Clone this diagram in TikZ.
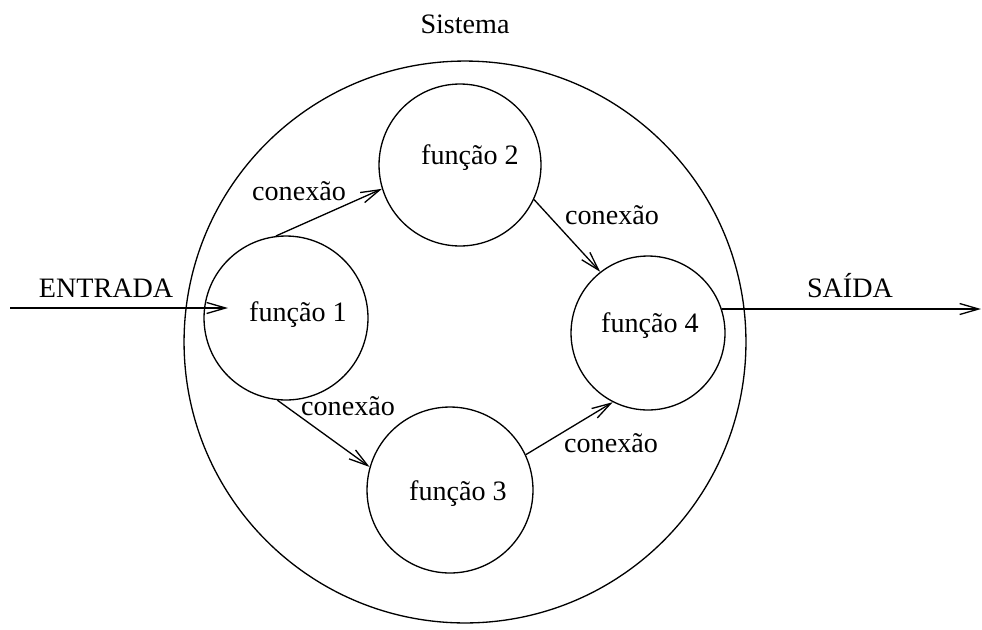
\documentclass[tikz,border=0pt]{standalone}
\usepackage{fontspec}
\setmainfont{Liberation Serif}
\usetikzlibrary{arrows.meta}

\begin{document}
\begin{tikzpicture}[
  x=0.02cm, y=-0.02cm,
  font=\fontsize{16}{19}\selectfont,
  line width=.75pt,
  func/.style={draw,circle,inner sep=0pt,minimum size=#1},
  lbl/.style={anchor=base,inner sep=0pt},
  conn/.style={-{Straight Barb[length=.38cm,width=.22cm]}}
]
  \useasboundingbox (0,0) rectangle (982,629);

  % system boundary
  \node[func=11.24cm] (sys) at (465,342) {};
  \node[lbl] (systxt) at (465,33) {Sistema};

  % functions
  \node[func=3.28cm] (f1) at (286,318) {};
  \node[func=3.24cm] (f2) at (460,165) {};
  \node[func=3.32cm] (f3) at (450,490) {};
  \node[func=3.08cm] (f4) at (648,333) {};
  \node[lbl] (t1) at (298,321) {função 1};
  \node[lbl] (t2) at (470,164) {função 2};
  \node[lbl] (t3) at (458,500) {função 3};
  \node[lbl] (t4) at (650,332) {função 4};

  % input and output
  \coordinate (in) at (10,308);
  \coordinate (inend) at (228,308);
  \coordinate (out) at (981,309);
  \draw[conn] (in) -- (inend);
  \draw[conn] (f4.18) -- (f4.18 -| out);
  \node[lbl] (entrada) at (106,297) {ENTRADA};
  \node[lbl] (saida) at (850,297) {SAÍDA};

  % connections between functions
  \draw[conn] (f1.97) -- (f2.197);
  \draw[conn] (f2.-25) -- (f4.128);
  \draw[conn] (f1.264) -- (f3.164);
  \draw[conn] (f3.25) -- (f4.243);
  \node[lbl] (c12) at (299,200) {conexão};
  \node[lbl] (c24) at (612,224) {conexão};
  \node[lbl] (c13) at (348,415) {conexão};
  \node[lbl] (c34) at (611,452) {conexão};
\end{tikzpicture}
\end{document}
